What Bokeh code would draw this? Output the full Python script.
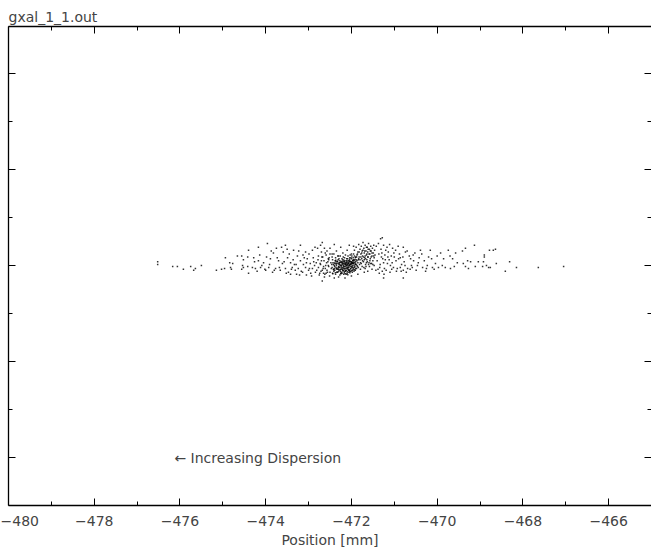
from bokeh.plotting import figure
from bokeh.models import Range1d, LinearAxis, FixedTicker, Label, CustomLabelingPolicy
from bokeh.embed import file_html
from bokeh.resources import INLINE

# ---- data ----
title_text = "gxal_1_1.out"
x_label = "Position [mm]"
note_text = "\u2190 Increasing Dispersion"
note_x = -476.13
note_y = -2.0

x_major = [-480, -478, -476, -474, -472, -470, -468, -466]
x_minor = [-479, -477, -475, -473, -471, -469, -467, -465]
y_major = [-2, -1, 0, 1, 2]
y_minor = [-1.5, -0.5, 0.5, 1.5]

# sparse left tail
tail_left_x = [-476.52, -476.52, -476.17, -476.06, -475.92, -475.75, -475.68, -475.64, -475.50,
               -475.15, -475.03, -474.96, -474.94, -474.84, -474.82, -474.80, -474.77, -474.66,
               -474.56, -474.56, -474.54, -474.52, -474.52, -474.42, -474.42, -474.40, -474.40]
tail_left_y = [0.04, 0.01, -0.01, -0.01, -0.04, -0.01, -0.05, -0.03, 0.00,
               -0.05, -0.04, -0.03, 0.08, 0.03, -0.02, -0.04, 0.02, 0.10,
               0.10, -0.04, 0.00, 0.06, -0.02, 0.09, -0.01, 0.16, -0.08]

# left side, getting denser
left_x = [-474.31, -474.28, -474.24, -474.17, -474.12, -474.05, -474.00, -473.96, -473.93, -473.89,
          -473.84, -473.82, -473.77, -473.75, -473.70, -473.66, -473.61, -473.59, -473.54, -473.49,
          -473.47, -473.42, -473.38, -473.35, -473.31, -473.26, -473.24, -473.19, -473.14, -473.07,
          -473.07, -473.03, -473.00, -472.91, -472.91, -472.89, -472.84, -472.79, -472.77, -472.77,
          -472.72, -472.68, -472.68, -472.65, -472.61, -472.61, -473.42, -473.33, -473.21, -473.12,
          -473.05, -472.96, -472.93, -472.86, -472.82, -472.75, -472.72, -472.70, -472.65, -472.63,
          -472.58, -472.56, -472.54, -472.54, -472.51, -474.17, -473.54, -473.19, -472.68,
          -474.26, -474.20, -474.14, -474.09, -474.02, -473.98, -473.91, -473.87, -473.80, -473.73,
          -473.68, -473.63, -473.57, -473.52, -473.45, -473.40, -473.36, -473.29, -473.23, -473.17,
          -473.10, -473.05, -472.99, -472.95, -472.88, -472.85, -472.81, -472.78, -472.74, -472.70,
          -472.67, -472.63, -472.59, -472.57, -472.53, -472.50, -472.98, -473.13, -473.28, -473.50]
left_y = [-0.02, 0.08, -0.03, 0.05, -0.02, 0.03, -0.05, 0.23, -0.02, 0.07,
          -0.07, 0.13, -0.03, 0.18, 0.05, -0.05, 0.02, 0.14, -0.03, 0.08,
          -0.07, 0.03, -0.02, 0.16, -0.05, 0.10, -0.03, 0.05, -0.07, 0.14,
          -0.02, 0.07, -0.05, 0.16, -0.03, 0.08, -0.07, 0.18, 0.10, -0.02,
          0.21, 0.24, -0.05, -0.08, 0.13, -0.03, -0.09, 0.01, -0.10, 0.01,
          -0.10, 0.02, -0.11, 0.00, 0.03, -0.10, 0.01, 0.05, -0.01, -0.12,
          0.03, -0.07, 0.00, 0.07, -0.11, 0.19, 0.21, 0.21, -0.16,
          0.04, -0.06, 0.11, 0.00, -0.04, 0.09, 0.01, 0.15, -0.05, 0.08,
          -0.02, 0.19, 0.04, -0.08, 0.12, -0.04, 0.06, 0.01, 0.15, -0.06,
          0.08, 0.03, 0.12, -0.08, 0.04, 0.19, -0.05, 0.06, -0.08, 0.14,
          0.09, 0.18, -0.08, 0.15, 0.06, 0.12, -0.03, 0.11, -0.09, 0.17]

# dense core
core_x = [-472.45, -472.43, -472.41, -472.40, -472.38, -472.37, -472.35, -472.34, -472.33, -472.31,
          -472.30, -472.29, -472.28, -472.27, -472.26, -472.25, -472.24, -472.23, -472.22, -472.21,
          -472.20, -472.19, -472.18, -472.17, -472.16, -472.15, -472.14, -472.13, -472.12, -472.11,
          -472.10, -472.09, -472.08, -472.07, -472.06, -472.05, -472.04, -472.03, -472.02, -472.01,
          -472.00, -471.99, -471.98, -471.97, -471.96, -471.95, -471.94, -471.93, -471.92, -471.91,
          -471.90, -471.89, -471.88, -471.87, -471.86,
          -472.44, -472.42, -472.39, -472.36, -472.32, -472.29, -472.27, -472.24, -472.22, -472.20,
          -472.18, -472.16, -472.14, -472.12, -472.10, -472.08, -472.06, -472.04, -472.02, -472.00,
          -471.98, -471.96, -471.94, -471.92, -471.90,
          -472.46, -472.40, -472.35, -472.31, -472.28, -472.26, -472.23, -472.21, -472.19, -472.17,
          -472.15, -472.13, -472.11, -472.09, -472.07, -472.05, -472.03, -472.01, -471.99, -471.97,
          -472.40, -472.30, -472.15, -472.00, -471.85, -471.70,
          -472.50, -472.45, -472.40, -472.35, -472.30, -472.25, -472.20, -472.10, -472.05, -472.00,
          -471.95, -471.32,
          -472.415, -472.395, -472.375, -472.355, -472.345, -472.325, -472.305, -472.295, -472.285, -472.265,
          -472.255, -472.245, -472.235, -472.215, -472.205, -472.195, -472.185, -472.175, -472.165, -472.155,
          -472.145, -472.135, -472.125, -472.115, -472.105, -472.095, -472.085, -472.075, -472.065, -472.055,
          -472.045, -472.035, -472.025, -472.015, -472.005, -471.995, -471.985, -471.975, -471.965, -471.955,
          -472.435, -472.365, -472.315, -472.225, -472.145, -472.085, -472.045, -471.945, -471.925, -471.905]
core_y = [-0.02, 0.03, -0.06, 0.00, 0.05, -0.09, -0.03, 0.02, -0.07, 0.06,
          -0.01, -0.05, 0.03, -0.10, 0.00, -0.04, 0.04, -0.07, 0.01, -0.02,
          0.06, -0.05, -0.09, 0.02, -0.01, 0.05, -0.06, -0.03, 0.03, 0.00,
          -0.08, 0.07, -0.04, 0.02, -0.02, 0.05, -0.06, 0.01, -0.03, 0.08,
          -0.01, 0.04, -0.07, 0.02, -0.04, 0.06, 0.00, -0.02, 0.03, -0.05,
          0.09, 0.01, -0.03, 0.05, -0.01,
          0.06, -0.04, -0.01, 0.04, -0.04, 0.01, 0.05, -0.02, -0.08, 0.02,
          -0.01, 0.04, 0.01, -0.05, 0.03, 0.00, -0.07, 0.04, 0.01, 0.03,
          0.00, 0.02, -0.06, -0.01, 0.04,
          0.01, -0.03, 0.00, 0.02, -0.02, -0.06, 0.03, -0.04, 0.00, -0.03,
          0.01, -0.01, 0.05, -0.02, -0.05, 0.00, -0.01, 0.02, -0.02, 0.05,
          -0.13, -0.12, -0.13, -0.11, -0.09, -0.07,
          0.18, 0.12, 0.22, 0.15, 0.10, 0.19, 0.13, 0.16, 0.21, 0.12,
          0.20, 0.28,
          -0.045, 0.025, -0.075, 0.015, -0.035, 0.045, -0.065, -0.015, 0.025, -0.045,
          0.035, -0.085, -0.005, 0.045, -0.055, 0.015, -0.025, 0.055, -0.075, -0.035,
          0.025, -0.055, 0.005, -0.025, 0.045, -0.065, 0.015, -0.015, 0.035, -0.045,
          0.005, -0.075, 0.045, -0.035, 0.015, -0.055, 0.025, -0.015, 0.055, -0.025,
          -0.085, 0.055, -0.025, -0.035, -0.085, -0.095, 0.065, 0.035, -0.045, 0.015]

# wider core halo
halo_x = [-472.73, -472.71, -472.69, -472.66, -472.64, -472.62, -472.60, -472.59, -472.57, -472.55,
          -472.53, -472.52, -472.50, -472.48, -472.47, -472.45, -472.44, -472.42, -472.41, -472.39,
          -472.38, -472.37, -472.36, -472.34, -472.33, -472.32, -472.30, -472.29, -472.27, -472.26,
          -472.25, -472.24, -472.22, -472.21, -472.19, -472.18, -472.17, -472.16, -472.14, -472.13,
          -472.12, -472.11, -472.10, -472.09, -472.08, -472.07, -472.06, -472.05, -472.04, -472.03,
          -472.02, -472.01, -472.00, -471.99, -471.98, -471.97, -471.96, -471.95, -471.94, -471.93,
          -471.92, -471.91, -471.90, -471.89, -471.88, -471.87, -471.86, -471.85, -471.84, -471.83,
          -471.82, -471.81, -471.80, -471.79, -471.78, -471.77, -471.76, -471.75, -471.74, -471.73,
          -471.72, -471.71, -471.70, -471.69, -471.68, -471.67, -471.66, -471.65, -471.64, -471.63,
          -471.62, -471.61, -471.60, -471.59, -471.57, -471.56, -471.54, -471.52, -471.50, -471.48]
halo_y = [0.02, -0.06, 0.09, -0.03, 0.05, -0.09, 0.00, 0.11, -0.05, 0.04,
          -0.01, 0.08, -0.07, 0.03, -0.03, 0.09, -0.08, 0.01, 0.12, -0.05,
          0.02, 0.08, -0.02, -0.07, 0.04, 0.10, -0.04, 0.07, 0.01, 0.10,
          -0.08, 0.00, 0.07, 0.03, 0.09, 0.04, -0.06, 0.08, 0.11, 0.02,
          -0.09, 0.07, 0.01, -0.03, 0.10, 0.05, 0.02, -0.05, 0.08, 0.11,
          -0.06, 0.04, 0.07, 0.10, 0.03, -0.05, 0.08, 0.02, 0.05, 0.10,
          0.06, 0.01, -0.03, 0.06, 0.09, 0.00, 0.12, 0.03, -0.02, 0.07,
          0.14, 0.01, 0.06, -0.04, 0.09, 0.02, 0.13, -0.01, 0.05, 0.16,
          0.09, -0.02, 0.06, 0.15, 0.10, 0.07, -0.01, 0.19, 0.12, 0.04,
          0.09, 0.17, 0.01, 0.12, 0.05, 0.15, 0.09, 0.13, 0.01, 0.10]

# upward hump right of the core
hump_x = [-471.95, -471.93, -471.91, -471.89, -471.87, -471.85, -471.84, -471.83, -471.82, -471.80,
          -471.79, -471.78, -471.77, -471.76, -471.75, -471.74, -471.73, -471.72, -471.71, -471.70,
          -471.69, -471.68, -471.67, -471.66, -471.65, -471.64, -471.63, -471.62, -471.61, -471.60,
          -471.59, -471.58, -471.57, -471.56, -471.55, -471.54, -471.53, -471.52, -471.51, -471.50,
          -471.49, -471.48, -471.47, -471.46, -471.45,
          -471.68, -471.62, -471.58, -471.52, -471.47, -471.43, -471.65, -471.55]
hump_y = [0.12, 0.16, 0.08, 0.19, 0.11, 0.14, 0.06, 0.22, 0.09, 0.17,
          0.03, 0.12, 0.20, 0.07, 0.15, 0.10, 0.24, 0.04, 0.18, 0.13,
          0.08, 0.21, 0.01, 0.15, 0.11, 0.06, 0.19, 0.14, 0.09, 0.23,
          0.03, 0.17, 0.12, 0.07, 0.20, 0.15, 0.02, 0.10, 0.18, 0.05,
          0.13, 0.21, 0.08, 0.16, 0.11,
          -0.03, -0.06, -0.01, -0.04, 0.00, -0.05, 0.03, 0.02]

# right side, thinning out
right_x = [-471.28, -471.25, -471.30, -471.25, -471.23, -471.21, -471.16, -471.14, -471.09, -471.04,
           -471.02, -470.97, -470.93, -470.90, -470.86, -470.86, -470.79, -470.79, -470.74, -470.69,
           -470.62, -470.58, -470.55, -470.46, -470.39, -470.34, -470.23, -470.16, -470.11, -470.04,
           -469.92, -469.88, -469.81, -469.74, -469.69, -469.64, -469.57, -469.53, -470.79, -471.25,
           -471.40, -471.38, -471.36, -471.35, -471.33, -471.31, -471.28, -471.27, -471.22, -471.19,
           -471.17, -471.12, -471.10, -471.07, -471.05, -471.00, -470.95, -470.88, -470.83, -470.77,
           -470.72, -470.65, -470.60, -470.52, -470.49, -470.42, -470.30, -470.27, -470.20, -470.07,
           -470.00,
           -471.42, -471.37, -471.34, -471.29, -471.24, -471.20, -471.15, -471.11, -471.06, -471.01,
           -470.96, -470.91, -470.84, -470.80, -470.75, -470.70, -470.63, -470.56, -470.44, -470.36,
           -470.25, -470.13, -469.97, -469.85, -469.70, -469.60]
right_y = [0.29, 0.21, 0.09, 0.03, -0.03, 0.06, 0.02, 0.14, 0.00, 0.18,
           -0.02, 0.16, -0.03, 0.07, -0.02, 0.08, 0.19, -0.05, 0.14, -0.03,
           0.07, -0.02, 0.05, 0.00, 0.16, -0.02, 0.00, 0.16, -0.02, 0.02,
           0.13, 0.00, -0.02, 0.16, -0.03, 0.07, 0.13, 0.03, -0.13, -0.13,
           0.05, -0.04, 0.12, -0.08, 0.01, 0.17, -0.06, 0.07, 0.11, -0.05,
           0.19, 0.06, -0.07, 0.10, 0.03, 0.09, -0.06, 0.12, 0.01, 0.04,
           -0.07, 0.10, 0.00, 0.13, -0.05, 0.08, 0.05, -0.06, 0.09, -0.04,
           0.10,
           0.20, 0.23, -0.02, 0.13, -0.09, 0.16, 0.09, 0.22, -0.04, 0.13,
           0.05, 0.20, -0.06, 0.09, 0.00, 0.15, -0.04, 0.11, 0.03, 0.12,
           -0.03, 0.07, -0.02, 0.07, 0.10, -0.01]

# sparse right tail
tail_right_x = [-469.41, -469.34, -469.39, -469.34, -469.29, -469.27, -469.22, -469.13, -469.11, -469.04,
                -468.94, -468.92, -468.90, -468.90, -468.85, -468.80, -468.78, -468.76, -468.69, -468.64,
                -468.62, -468.41, -468.31, -468.15, -467.64, -467.05]
tail_right_y = [0.15, 0.18, 0.02, -0.01, 0.05, -0.03, 0.04, 0.21, -0.01, 0.04,
                -0.01, 0.04, 0.11, 0.09, 0.00, -0.02, 0.16, -0.02, 0.16, 0.17,
                0.02, -0.06, 0.04, -0.02, -0.02, -0.01]

xs = tail_left_x + left_x + core_x + halo_x + hump_x + right_x + tail_right_x
ys = tail_left_y + left_y + core_y + halo_y + hump_y + right_y + tail_right_y

FONT = "DejaVu Sans"
FS = "14px"

p = figure(width=651, height=552, output_backend="svg", toolbar_location=None,
           x_range=Range1d(-480, -465), y_range=Range1d(-2.5, 2.49),
           min_border_left=8, min_border_right=0, min_border_top=26, min_border_bottom=47,
           background_fill_color="white", border_fill_color="white")
p.grid.visible = False
p.outline_line_color = None

p.title.text = title_text
p.title.align = "left"
p.title.text_font = FONT
p.title.text_font_size = FS
p.title.text_font_style = "normal"
p.title.standoff = 3
p.title.offset = 0

NO_LABELS = "for (const i of []) { yield i }"


def style_axis(ax, ticks, minors, labels=False):
    ax.ticker = FixedTicker(ticks=ticks, minor_ticks=minors)
    ax.major_tick_in = 7
    ax.major_tick_out = 0
    ax.minor_tick_in = 4
    ax.minor_tick_out = 0
    ax.axis_line_color = "black"
    ax.axis_line_width = 1.3
    ax.major_tick_line_color = "black"
    ax.minor_tick_line_color = "black"
    if not labels:
        ax.major_label_policy = CustomLabelingPolicy(code=NO_LABELS)
        ax.major_label_text_font_size = "0px"
        ax.major_label_standoff = 0


bx = p.xaxis[0]
style_axis(bx, x_major, x_minor, labels=True)
bx.major_label_overrides = {t: "\u2212" + str(abs(t)) for t in x_major}
bx.major_label_text_font = FONT
bx.major_label_text_font_size = FS
bx.major_label_standoff = 10
bx.axis_label = x_label
bx.axis_label_text_font = FONT
bx.axis_label_text_font_size = FS
bx.axis_label_text_font_style = "normal"
bx.axis_label_standoff = 3

ly = p.yaxis[0]
style_axis(ly, y_major, y_minor)

top = LinearAxis()
style_axis(top, x_major, x_minor)
p.add_layout(top, "above")

ry = LinearAxis()
style_axis(ry, y_major, y_minor)
ry.axis_line_color = None
p.add_layout(ry, "right")

p.scatter(x=xs, y=ys, marker="square", size=1.5, fill_color="black",
          line_color=None, fill_alpha=0.8)

p.add_layout(Label(x=note_x, y=note_y, text=note_text, text_font=FONT,
                   text_font_size=FS, text_baseline="middle", text_align="left"))

open("out.html", "w").write(file_html(p, INLINE))
